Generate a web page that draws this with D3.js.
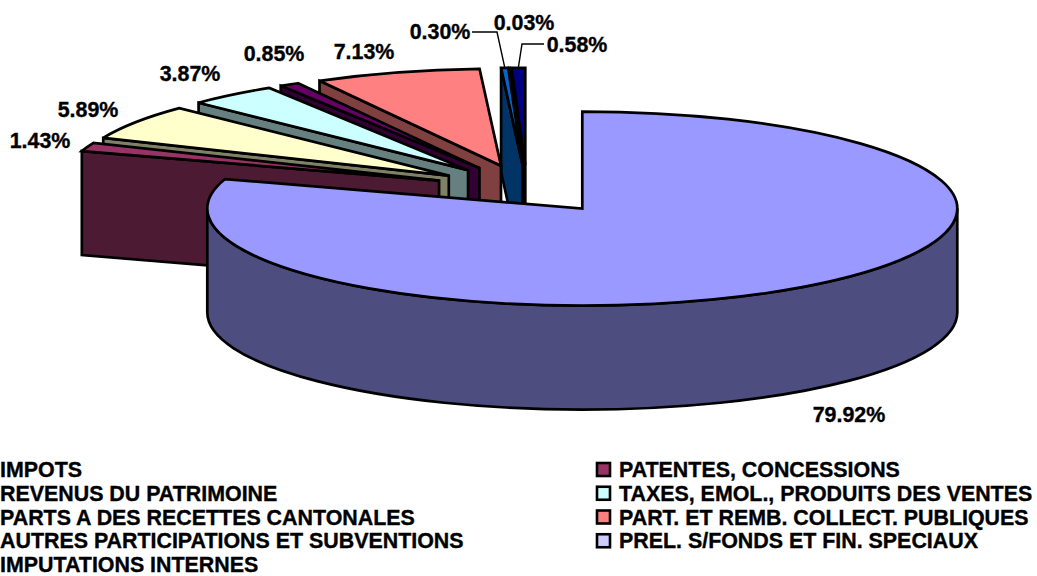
<!DOCTYPE html>
<html><head><meta charset="utf-8">
<script src="https://cdnjs.cloudflare.com/ajax/libs/d3/7.8.5/d3.min.js"></script>
<style>html,body{margin:0;padding:0;background:#fff;overflow:hidden}svg{display:block}
text{font-family:"Liberation Sans",Arial,sans-serif;font-weight:bold;fill:#000;stroke:#000;stroke-width:.35px}</style>
</head><body><script>
const categories=["IMPOTS","PATENTES, CONCESSIONS","REVENUS DU PATRIMOINE","TAXES, EMOL., PRODUITS DES VENTES","PARTS A DES RECETTES CANTONALES","PART. ET REMB. COLLECT. PUBLIQUES","AUTRES PARTICIPATIONS ET SUBVENTIONS","PREL. S/FONDS ET FIN. SPECIAUX","IMPUTATIONS INTERNES"];
const values=[79.92,1.43,5.89,3.87,0.85,7.13,0.30,0.03,0.58];
const colors=["#9999FF","#993366","#FFFFCC","#CCFFFF","#660066","#FF8080","#0066CC","#CCCCFF","#000080"];
const labelX=[849,40,88,190,274,364,440,524,577];
const labelY=[414,140,109,73,53,51,31,22,44];
const W=1037,H=576,cx=527,cy=189,rx=375,ry=97,depth=104,explode=0.25;
const svg=d3.select("body").append("svg").attr("width",W).attr("height",H);
const pie=d3.pie().sort(null).value(d=>d);
const arcs=pie(values).map((a,i)=>{
  const mid=(a.startAngle+a.endAngle)/2;
  return {i,a0:a.startAngle,a1:a.endAngle,ax:cx+explode*rx*Math.sin(mid),ay:cy-explode*ry*Math.cos(mid),color:colors[i]};
});
const P=(s,t,dz=0)=>[s.ax+rx*Math.sin(t),s.ay-ry*Math.cos(t)+dz];
const half=c=>{const r=d3.rgb(c);return d3.rgb(r.r/2,r.g/2,r.b/2).formatHex();};
const arcTo=(s,t0,t1,dz=0,sweep=1)=>{const p=P(s,t1,dz);return `A${rx},${ry} 0 ${Math.abs(t1-t0)>Math.PI?1:0} ${sweep} ${p[0]},${p[1]}`;};
const style=sel=>sel.attr("stroke","#000").attr("stroke-width",2.7).attr("stroke-linejoin","miter").attr("stroke-miterlimit",3);
const g=svg.append("g");
function radial(s,t){
  const p=P(s,t),q=P(s,t,depth);
  return `M${s.ax},${s.ay}L${p}L${q}L${s.ax},${s.ay+depth}Z`;
}
function drawSlice(s){
  if(Math.sin(s.a0)<-1e-6) style(g.append("path").attr("d",radial(s,s.a0)).attr("fill",half(s.color)));
  if(Math.sin(s.a1)>1e-6) style(g.append("path").attr("d",radial(s,s.a1)).attr("fill",half(s.color)));
  const f0=Math.max(s.a0,Math.PI/2),f1=Math.min(s.a1,3*Math.PI/2);
  if(f1>f0){
    const a=P(s,f0),b=P(s,f1,depth);
    style(g.append("path").attr("d",`M${a}${arcTo(s,f0,f1)}L${b}${arcTo(s,f1,f0,depth,0)}Z`).attr("fill",half(s.color)));
  }
  const st=P(s,s.a0);
  style(g.append("path").attr("d",`M${s.ax},${s.ay}L${st}${arcTo(s,s.a0,s.a1)}Z`).attr("fill",s.color));
}
arcs.slice(1).reverse().forEach(drawSlice);
drawSlice(arcs[0]);
const fmt=v=>v.toFixed(2)+"%";
svg.append("g").selectAll("text").data(values).join("text")
  .attr("x",(d,i)=>labelX[i]).attr("y",(d,i)=>labelY[i]+7.5)
  .attr("text-anchor","middle").attr("font-size",21.4).text(fmt);
const leaders=[[6,[[472,32],[497,32]]],[8,[[544,44],[522,44]]]];
const lead=d3.line();
leaders.forEach(([i,pts])=>{
  const s=arcs[i],m=(s.a0+s.a1)/2;
  const tip=P(s,m,-1);
  svg.append("path").attr("d",lead([...pts,tip])).attr("fill","none").attr("stroke","#000").attr("stroke-width",1.4);
});
const rowY=d3.scalePoint().domain(d3.range(5)).range([470,565]);
const legend=svg.append("g").selectAll("g").data(categories).join("g")
  .attr("transform",(d,i)=>`translate(${i%2?619:0},${rowY(Math.floor(i/2))})`);
legend.append("rect").attr("x",-22).attr("y",-7).attr("width",13).attr("height",13)
  .attr("fill",(d,i)=>colors[i]).attr("stroke","#000").attr("stroke-width",2.6);
legend.append("text").attr("y",7).attr("font-size",21.4).text(d=>d);
</script></body></html>
